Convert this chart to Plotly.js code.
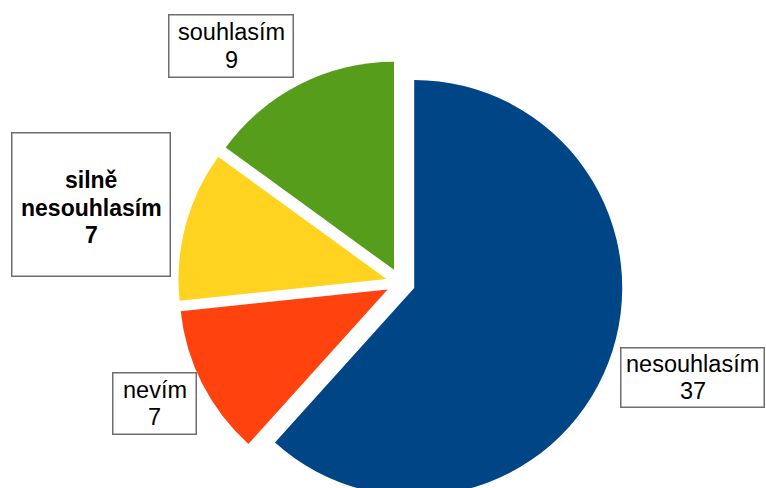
<!DOCTYPE html>
<html>
<head>
<meta charset="utf-8">
<script src="https://cdn.plot.ly/plotly-3.0.1.min.js"></script>
<style>
html,body{margin:0;padding:0;overflow:hidden;background:#fff;}
#chart{width:766px;height:520px;}
</style>
</head>
<body>
<div id="chart"></div>
<script>
// Data
var labels = ["nesouhlasím", "nevím", "silně nesouhlasím", "souhlasím"];
var labelLines = [["nesouhlasím"], ["nevím"], ["silně", "nesouhlasím"], ["souhlasím"]];
var values = [37, 7, 7, 9];
var colors = ["#004586", "#ff420e", "#ffd320", "#579d1c"];
var boldLabel = [false, false, true, false];

// Label box layout (px)
var W = 766, H = 520;
var boxes = [
  {cx: 692.5, cy: 377.5, w: 142, h: 58, tcy: 377.3},
  {cx: 154.5, cy: 403.5, w: 82, h: 60, tcy: 403.5},
  {cx: 91, cy: 204.5, w: 157, h: 142, tcy: 207.5},
  {cx: 231, cy: 46, w: 123, h: 61, tcy: 46}
];
var PITCH = 27.5;

var annotations = [];
labels.forEach(function(l, i) {
  var b = boxes[i];
  annotations.push({
    text: " ",
    xref: "paper", yref: "paper",
    x: b.cx / W, y: 1 - b.cy / H,
    xanchor: "center", yanchor: "middle",
    showarrow: false,
    width: b.w, height: b.h,
    bordercolor: "#6e6e6e", borderwidth: 1.5, borderpad: 0,
    bgcolor: "#ffffff",
    font: {size: 10}
  });
  var lines = labelLines[i].concat([String(values[i])]);
  var n = lines.length;
  lines.forEach(function(t, k) {
    var y = b.tcy + (k - (n - 1) / 2) * PITCH;
    annotations.push({
      text: boldLabel[i] ? "<b>" + t + "</b>" : t,
      xref: "paper", yref: "paper",
      x: b.cx / W, y: 1 - y / H,
      xanchor: "center", yanchor: "middle",
      showarrow: false,
      font: {family: "Liberation Sans, Arial, sans-serif", size: boldLabel[i] ? 23 : 23.5, color: "#000000"}
    });
  });
});

var trace = {
  type: "pie",
  labels: labels,
  values: values,
  sort: false,
  direction: "clockwise",
  rotation: 0,
  pull: [0.07, 0.07, 0.07, 0.07],
  marker: {colors: colors, line: {width: 0}},
  textinfo: "none",
  hoverinfo: "label+value",
  domain: {x: [178.0 / W, 623.2 / W], y: [1 - 505.4 / H, 1 - 60.2 / H]}
};

var layout = {
  width: W, height: H,
  margin: {l: 0, r: 0, t: 0, b: 0},
  showlegend: false,
  paper_bgcolor: "#ffffff",
  annotations: annotations
};

Plotly.newPlot("chart", [trace], layout, {displayModeBar: false, staticPlot: true});
</script>
</body>
</html>
